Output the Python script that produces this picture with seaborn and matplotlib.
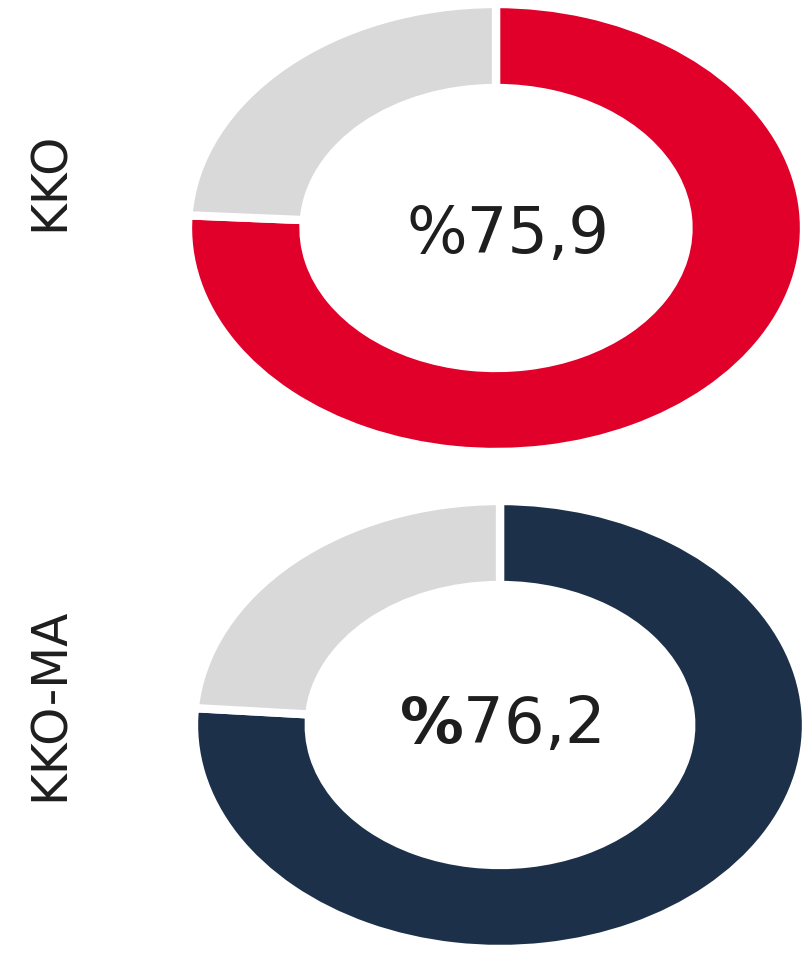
import matplotlib
matplotlib.use('Agg')
import matplotlib.pyplot as plt
import seaborn as sns

sns.set_theme(style='white')
plt.rcParams['font.family'] = ['DejaVu Sans']
plt.rcParams['mathtext.fontset'] = 'dejavusans'

# data
groups = ['KKO', 'KKO-MA']
shares = [75.9, 76.2]
center_labels = ['%75,9', r'$\mathbf{\%}$76,2']
main_colors = ['#E0002A', '#1C3049']
rest_color = '#D9D9D9'

fig = plt.figure(figsize=(8.04, 9.55), dpi=100)

# axes boxes in pixels (left, top, right, bottom), a bit bigger than the ring
# because the white edge line eats into it
px_boxes = [(188, 4, 804, 452), (194, 501, 806, 949)]
label_y = [181, 704]
text_offsets = [(0.04, -0.03), (0.0, 0.0)]

for i in range(len(groups)):
    l, t, r, b = px_boxes[i]
    ax = fig.add_axes((l/804, 1 - b/955, (r - l)/804, (b - t)/955))
    vals = [shares[i], 100 - shares[i]]
    ax.pie(vals, colors=[main_colors[i], rest_color], startangle=90,
           counterclock=False, radius=1,
           wedgeprops=dict(width=0.375, edgecolor='white', linewidth=6))
    # stretched (elliptical) donut like the reference
    ax.set_aspect('auto')
    ax.set_xlim(-1, 1)
    ax.set_ylim(-1, 1)
    ax.axis('off')
    dx, dy = text_offsets[i]
    ax.text(dx, dy, center_labels[i], ha='center', va='center',
            fontsize=46, color='#1e1e1e')
    fig.text(50/804, 1 - label_y[i]/955, groups[i], rotation=90,
             ha='center', va='center', fontsize=35, color='#1e1e1e')

plt.savefig('out.png', dpi=100, facecolor='white')
